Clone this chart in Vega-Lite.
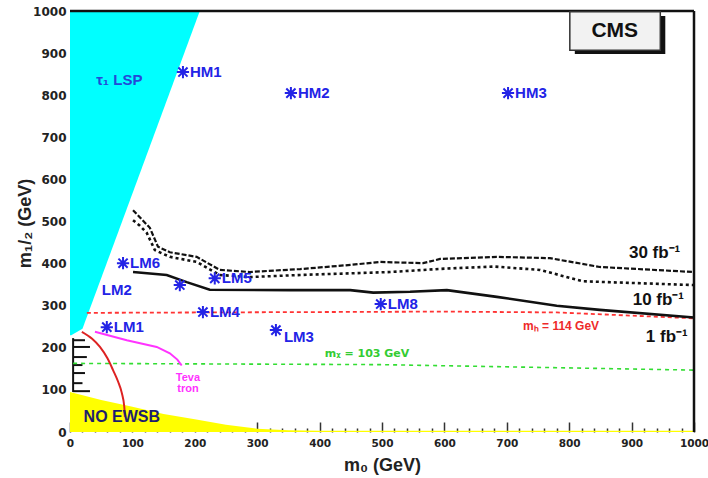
{
  "$schema": "https://vega.github.io/schema/vega-lite/v6.json",
  "autosize": {"type": "none"},
  "width": 624,
  "height": 421,
  "padding": {"left": 70, "top": 11, "right": 14, "bottom": 46},
  "background": "white",
  "config": {"view": {"stroke": null}},
  "resolve": {"axis": {"x": "independent"}},
  "datasets": {
    "cyan": [
      {"m12": 230, "m0": 2},
      {"m12": 245, "m0": 20},
      {"m12": 1000, "m0": 208}
    ],
    "yellow": [
      {"m0": 0, "m12": 95}, {"m0": 50, "m12": 76}, {"m0": 100, "m12": 60}, {"m0": 150, "m12": 43},
      {"m0": 200, "m12": 30}, {"m0": 250, "m12": 17}, {"m0": 300, "m12": 8}, {"m0": 350, "m12": 4},
      {"m0": 400, "m12": 3}, {"m0": 1000, "m12": 3}
    ],
    "comb": [
      {"x": 5, "x2": 5, "y": 95, "y2": 223},
      {"x": 5, "x2": 24, "y": 218, "y2": 218},
      {"x": 5, "x2": 32, "y": 202, "y2": 202},
      {"x": 5, "x2": 27, "y": 178, "y2": 178},
      {"x": 5, "x2": 20, "y": 159, "y2": 159},
      {"x": 5, "x2": 24, "y": 140, "y2": 140},
      {"x": 5, "x2": 20, "y": 116, "y2": 116},
      {"x": 5, "x2": 32, "y": 97, "y2": 97}
    ],
    "curves": [
      {"c": "red", "i": 0, "m0": 19, "m12": 238}, {"c": "red", "i": 1, "m0": 35, "m12": 222},
      {"c": "red", "i": 2, "m0": 48, "m12": 202}, {"c": "red", "i": 3, "m0": 60, "m12": 175},
      {"c": "red", "i": 4, "m0": 69, "m12": 147}, {"c": "red", "i": 5, "m0": 77, "m12": 120},
      {"c": "red", "i": 6, "m0": 83, "m12": 93}, {"c": "red", "i": 7, "m0": 87, "m12": 60},
      {"c": "red", "i": 8, "m0": 88, "m12": 36},
      {"c": "tev", "i": 0, "m0": 40, "m12": 238}, {"c": "tev", "i": 1, "m0": 91, "m12": 218},
      {"c": "tev", "i": 2, "m0": 139, "m12": 202}, {"c": "tev", "i": 3, "m0": 160, "m12": 187},
      {"c": "tev", "i": 4, "m0": 172, "m12": 172}, {"c": "tev", "i": 5, "m0": 179, "m12": 158},
      {"c": "higgs", "i": 0, "m0": 27, "m12": 283}, {"c": "higgs", "i": 1, "m0": 600, "m12": 286},
      {"c": "higgs", "i": 2, "m0": 780, "m12": 284}, {"c": "higgs", "i": 3, "m0": 1000, "m12": 270},
      {"c": "chi", "i": 0, "m0": 5, "m12": 163}, {"c": "chi", "i": 1, "m0": 500, "m12": 160},
      {"c": "chi", "i": 2, "m0": 1000, "m12": 147},
      {"c": "l30", "i": 0, "m0": 101, "m12": 527}, {"c": "l30", "i": 1, "m0": 115, "m12": 505},
      {"c": "l30", "i": 2, "m0": 128, "m12": 485}, {"c": "l30", "i": 3, "m0": 141, "m12": 440},
      {"c": "l30", "i": 4, "m0": 160, "m12": 427}, {"c": "l30", "i": 5, "m0": 203, "m12": 416},
      {"c": "l30", "i": 6, "m0": 240, "m12": 385}, {"c": "l30", "i": 7, "m0": 288, "m12": 380},
      {"c": "l30", "i": 8, "m0": 369, "m12": 387}, {"c": "l30", "i": 9, "m0": 450, "m12": 397},
      {"c": "l30", "i": 10, "m0": 497, "m12": 404}, {"c": "l30", "i": 11, "m0": 566, "m12": 401},
      {"c": "l30", "i": 12, "m0": 593, "m12": 411}, {"c": "l30", "i": 13, "m0": 684, "m12": 416},
      {"c": "l30", "i": 14, "m0": 769, "m12": 413}, {"c": "l30", "i": 15, "m0": 849, "m12": 392},
      {"c": "l30", "i": 16, "m0": 1000, "m12": 380},
      {"c": "l10", "i": 0, "m0": 101, "m12": 503}, {"c": "l10", "i": 1, "m0": 112, "m12": 490},
      {"c": "l10", "i": 2, "m0": 123, "m12": 473}, {"c": "l10", "i": 3, "m0": 136, "m12": 432},
      {"c": "l10", "i": 4, "m0": 160, "m12": 416}, {"c": "l10", "i": 5, "m0": 203, "m12": 404},
      {"c": "l10", "i": 6, "m0": 240, "m12": 373}, {"c": "l10", "i": 7, "m0": 288, "m12": 368},
      {"c": "l10", "i": 8, "m0": 369, "m12": 373}, {"c": "l10", "i": 9, "m0": 513, "m12": 380},
      {"c": "l10", "i": 10, "m0": 600, "m12": 388}, {"c": "l10", "i": 11, "m0": 680, "m12": 393},
      {"c": "l10", "i": 12, "m0": 753, "m12": 385}, {"c": "l10", "i": 13, "m0": 822, "m12": 358},
      {"c": "l10", "i": 14, "m0": 1000, "m12": 349},
      {"c": "l1", "i": 0, "m0": 101, "m12": 380}, {"c": "l1", "i": 1, "m0": 155, "m12": 373},
      {"c": "l1", "i": 2, "m0": 187, "m12": 356}, {"c": "l1", "i": 3, "m0": 224, "m12": 338},
      {"c": "l1", "i": 4, "m0": 353, "m12": 337}, {"c": "l1", "i": 5, "m0": 449, "m12": 337},
      {"c": "l1", "i": 6, "m0": 486, "m12": 331}, {"c": "l1", "i": 7, "m0": 545, "m12": 333},
      {"c": "l1", "i": 8, "m0": 604, "m12": 337}, {"c": "l1", "i": 9, "m0": 684, "m12": 321},
      {"c": "l1", "i": 10, "m0": 780, "m12": 300}, {"c": "l1", "i": 11, "m0": 849, "m12": 290},
      {"c": "l1", "i": 12, "m0": 1000, "m12": 272}
    ],
    "bench": [
      {"name": "HM1", "m0": 181, "m12": 855},
      {"name": "HM2", "m0": 354, "m12": 805},
      {"name": "HM3", "m0": 702, "m12": 805},
      {"name": "LM6", "m0": 85, "m12": 401},
      {"name": "LM2", "m0": 176, "m12": 349},
      {"name": "LM5", "m0": 232, "m12": 365},
      {"name": "LM4", "m0": 213, "m12": 285},
      {"name": "LM1", "m0": 59, "m12": 249},
      {"name": "LM3", "m0": 330, "m12": 242},
      {"name": "LM8", "m0": 498, "m12": 304}
    ],
    "lumi": [
      {"t": "30 fb⁻¹", "m0": 978, "m12": 426},
      {"t": "10 fb⁻¹", "m0": 984, "m12": 313},
      {"t": "1 fb⁻¹", "m0": 990, "m12": 226}
    ],
    "tevlab": [
      {"t": "Teva", "m0": 189, "m12": 129},
      {"t": "tron", "m0": 189, "m12": 102}
    ]
  },
  "layer": [
    {
      "layer": [
        {
          "data": {"name": "cyan"},
          "mark": {"type": "area", "orient": "horizontal", "color": "#00ffff", "opacity": 1},
          "encoding": {
            "y": {"field": "m12", "type": "quantitative", "scale": {"domain": [0, 1000], "nice": false, "zero": false},
              "axis": {"values": [0, 100, 200, 300, 400, 500, 600, 700, 800, 900, 1000], "format": "d", "ticks": false, "domain": false, "grid": false,
                "labelFont": "DejaVu Sans", "labelFontWeight": "bold", "labelFontSize": 12, "labelColor": "#222", "labelPadding": 4, "labelFlush": false, "labelOverlap": false,
                "title": "m₁/₂ (GeV)", "titleFont": "Liberation Sans", "titleFontWeight": "bold", "titleFontSize": 18, "titleColor": "#222",
                "titleAngle": -90, "titleX": -45, "titleY": 212, "titleAlign": "center", "titleBaseline": "middle"}},
            "x": {"field": "m0", "type": "quantitative", "scale": {"domain": [0, 1000], "nice": false, "zero": false},
              "axis": {"orient": "bottom", "values": [0, 100, 200, 300, 400, 500, 600, 700, 800, 900, 1000], "format": "d",
                "tickSize": -10, "tickColor": "#333", "tickWidth": 1.5,
                "domain": false, "grid": false,
                "labelFont": "DejaVu Sans", "labelFontWeight": "bold", "labelFontSize": 10.5, "labelColor": "#222", "labelPadding": 16, "labelFlush": false, "labelOverlap": false, "labelBound": false,
                "title": "m₀ (GeV)", "titleFont": "Liberation Sans", "titleFontWeight": "bold", "titleFontSize": 18, "titleColor": "#222",
                "titleX": 312, "titleY": 33, "titleAlign": "center", "titleBaseline": "middle"}},
            "x2": {"datum": 0}
          }
        },
        {
          "data": {"name": "yellow"},
          "mark": {"type": "area", "color": "#ffff00", "opacity": 1},
          "encoding": {
            "x": {"field": "m0", "type": "quantitative"},
            "y": {"field": "m12", "type": "quantitative"},
            "y2": {"datum": 0}
          }
        },
        {
          "data": {"name": "comb"},
          "mark": {"type": "rule", "color": "#111", "strokeWidth": 2},
          "encoding": {
            "x": {"field": "x", "type": "quantitative"},
            "x2": {"field": "x2"},
            "y": {"field": "y", "type": "quantitative"},
            "y2": {"field": "y2"}
          }
        },
        {
          "data": {"name": "curves"},
          "transform": [{"filter": "datum.c === 'chi'"}],
          "mark": {"type": "line", "color": "#33dd33", "strokeWidth": 1.6, "strokeDash": [4, 4]},
          "encoding": {"x": {"field": "m0", "type": "quantitative"}, "y": {"field": "m12", "type": "quantitative"}, "order": {"field": "i"}}
        },
        {
          "data": {"name": "curves"},
          "transform": [{"filter": "datum.c === 'higgs'"}],
          "mark": {"type": "line", "color": "#ff3333", "strokeWidth": 1.8, "strokeDash": [4, 3]},
          "encoding": {"x": {"field": "m0", "type": "quantitative"}, "y": {"field": "m12", "type": "quantitative"}, "order": {"field": "i"}}
        },
        {
          "data": {"name": "curves"},
          "transform": [{"filter": "datum.c === 'red'"}],
          "mark": {"type": "line", "color": "#dd2222", "strokeWidth": 2, "interpolate": "monotone"},
          "encoding": {"x": {"field": "m0", "type": "quantitative"}, "y": {"field": "m12", "type": "quantitative"}, "order": {"field": "i"}}
        },
        {
          "data": {"name": "curves"},
          "transform": [{"filter": "datum.c === 'tev'"}],
          "mark": {"type": "line", "color": "#ff33ff", "strokeWidth": 2},
          "encoding": {"x": {"field": "m0", "type": "quantitative"}, "y": {"field": "m12", "type": "quantitative"}, "order": {"field": "i"}}
        },
        {
          "data": {"name": "curves"},
          "transform": [{"filter": "datum.c === 'l30'"}],
          "mark": {"type": "line", "color": "#111", "strokeWidth": 2.2, "strokeDash": [5, 2]},
          "encoding": {"x": {"field": "m0", "type": "quantitative"}, "y": {"field": "m12", "type": "quantitative"}, "order": {"field": "i"}}
        },
        {
          "data": {"name": "curves"},
          "transform": [{"filter": "datum.c === 'l10'"}],
          "mark": {"type": "line", "color": "#111", "strokeWidth": 2.6, "strokeDash": [3, 3]},
          "encoding": {"x": {"field": "m0", "type": "quantitative"}, "y": {"field": "m12", "type": "quantitative"}, "order": {"field": "i"}}
        },
        {
          "data": {"name": "curves"},
          "transform": [{"filter": "datum.c === 'l1'"}],
          "mark": {"type": "line", "color": "#111", "strokeWidth": 2.6},
          "encoding": {"x": {"field": "m0", "type": "quantitative"}, "y": {"field": "m12", "type": "quantitative"}, "order": {"field": "i"}}
        },
        {
          "data": {"name": "bench"},
          "mark": {"type": "point", "shape": "M-1,0L1,0M0,-1L0,1M-0.75,-0.75L0.75,0.75M-0.75,0.75L0.75,-0.75", "filled": false, "size": 150, "strokeWidth": 2, "color": "#2323e6", "opacity": 1},
          "encoding": {"x": {"field": "m0", "type": "quantitative"}, "y": {"field": "m12", "type": "quantitative"}}
        },
        {
          "data": {"name": "bench"},
          "transform": [{"filter": "datum.name !== 'LM2' && datum.name !== 'LM3'"}],
          "mark": {"type": "text", "align": "left", "baseline": "middle", "dx": 7, "font": "Liberation Sans", "fontWeight": "bold", "fontSize": 15, "color": "#2323e6"},
          "encoding": {"x": {"field": "m0", "type": "quantitative"}, "y": {"field": "m12", "type": "quantitative"}, "text": {"field": "name"}}
        },
        {
          "data": {"name": "bench"},
          "transform": [{"filter": "datum.name === 'LM3'"}],
          "mark": {"type": "text", "align": "left", "baseline": "middle", "dx": 8, "dy": 7, "font": "Liberation Sans", "fontWeight": "bold", "fontSize": 15, "color": "#2323e6"},
          "encoding": {"x": {"field": "m0", "type": "quantitative"}, "y": {"field": "m12", "type": "quantitative"}, "text": {"field": "name"}}
        },
        {
          "data": {"values": [{"t": "LM2", "m0": 51, "m12": 337}]},
          "mark": {"type": "text", "align": "left", "baseline": "middle", "font": "Liberation Sans", "fontWeight": "bold", "fontSize": 15, "color": "#2323e6"},
          "encoding": {"x": {"field": "m0", "type": "quantitative"}, "y": {"field": "m12", "type": "quantitative"}, "text": {"field": "t"}}
        },
        {
          "data": {"values": [{"t": "τ₁ LSP", "m0": 79, "m12": 836}]},
          "mark": {"type": "text", "align": "center", "baseline": "middle", "font": "Liberation Sans", "fontWeight": "bold", "fontSize": 15, "color": "#2448d8"},
          "encoding": {"x": {"field": "m0", "type": "quantitative"}, "y": {"field": "m12", "type": "quantitative"}, "text": {"field": "t"}}
        },
        {
          "data": {"values": [{"t": "NO EWSB", "m0": 83, "m12": 36}]},
          "mark": {"type": "text", "align": "center", "baseline": "middle", "font": "Liberation Sans", "fontWeight": "bold", "fontSize": 16, "color": "#1e1e6e"},
          "encoding": {"x": {"field": "m0", "type": "quantitative"}, "y": {"field": "m12", "type": "quantitative"}, "text": {"field": "t"}}
        },
        {
          "data": {"name": "tevlab"},
          "mark": {"type": "text", "align": "center", "baseline": "middle", "font": "Liberation Sans", "fontWeight": "bold", "fontSize": 11, "color": "#ff33ff"},
          "encoding": {"x": {"field": "m0", "type": "quantitative"}, "y": {"field": "m12", "type": "quantitative"}, "text": {"field": "t"}}
        },
        {
          "data": {"values": [{"t": "mₕ = 114 GeV", "m0": 787, "m12": 252}]},
          "mark": {"type": "text", "align": "center", "baseline": "middle", "font": "Liberation Sans", "fontWeight": "bold", "fontSize": 12, "color": "#ee2a2a"},
          "encoding": {"x": {"field": "m0", "type": "quantitative"}, "y": {"field": "m12", "type": "quantitative"}, "text": {"field": "t"}}
        },
        {
          "data": {"values": [{"t": "mᵪ = 103 GeV", "m0": 476, "m12": 185}]},
          "mark": {"type": "text", "align": "center", "baseline": "middle", "font": "DejaVu Sans", "fontWeight": "bold", "fontSize": 11, "color": "#33cc33"},
          "encoding": {"x": {"field": "m0", "type": "quantitative"}, "y": {"field": "m12", "type": "quantitative"}, "text": {"field": "t"}}
        },
        {
          "data": {"name": "lumi"},
          "mark": {"type": "text", "align": "right", "baseline": "middle", "font": "Liberation Sans", "fontWeight": "bold", "fontSize": 17, "color": "#111"},
          "encoding": {"x": {"field": "m0", "type": "quantitative"}, "y": {"field": "m12", "type": "quantitative"}, "text": {"field": "t"}}
        },
        {
          "data": {"values": [{}]},
          "mark": {"type": "rule", "color": "#111", "strokeWidth": 2.5},
          "encoding": {"y": {"datum": 1000, "type": "quantitative"}}
        },
        {
          "data": {"values": [{}]},
          "mark": {"type": "rule", "color": "#111", "strokeWidth": 2.5},
          "encoding": {"x": {"datum": 1000, "type": "quantitative"}}
        },
        {
          "data": {"values": [{}]},
          "mark": {"type": "rect", "color": "#111"},
          "encoding": {"x": {"datum": 809, "type": "quantitative"}, "x2": {"datum": 954}, "y": {"datum": 988, "type": "quantitative"}, "y2": {"datum": 898}}
        },
        {
          "data": {"values": [{}]},
          "mark": {"type": "rect", "fill": "#f2f2f2", "stroke": "#333", "strokeWidth": 1.5},
          "encoding": {"x": {"datum": 801, "type": "quantitative"}, "x2": {"datum": 946}, "y": {"datum": 998, "type": "quantitative"}, "y2": {"datum": 907}}
        },
        {
          "data": {"values": [{"t": "CMS"}]},
          "mark": {"type": "text", "align": "center", "baseline": "middle", "font": "Liberation Sans", "fontWeight": "bold", "fontSize": 21, "color": "#111"},
          "encoding": {"x": {"datum": 873, "type": "quantitative"}, "y": {"datum": 952, "type": "quantitative"}, "text": {"field": "t"}}
        }
      ]
    },
    {
      "data": {"values": [{}]},
      "mark": {"type": "rule", "opacity": 0},
      "encoding": {
        "x": {"datum": 0, "type": "quantitative",
          "axis": {"orient": "bottom", "values": [20, 40, 60, 80, 120, 140, 160, 180, 220, 240, 260, 280, 320, 340, 360, 380, 420, 440, 460, 480, 520, 540, 560, 580, 620, 640, 660, 680, 720, 740, 760, 780, 820, 840, 860, 880, 920, 940, 960, 980],
            "labels": false, "tickSize": -4, "tickColor": "#333", "tickWidth": 1.5, "domain": false, "grid": false, "title": null}}
      }
    }
  ]
}
